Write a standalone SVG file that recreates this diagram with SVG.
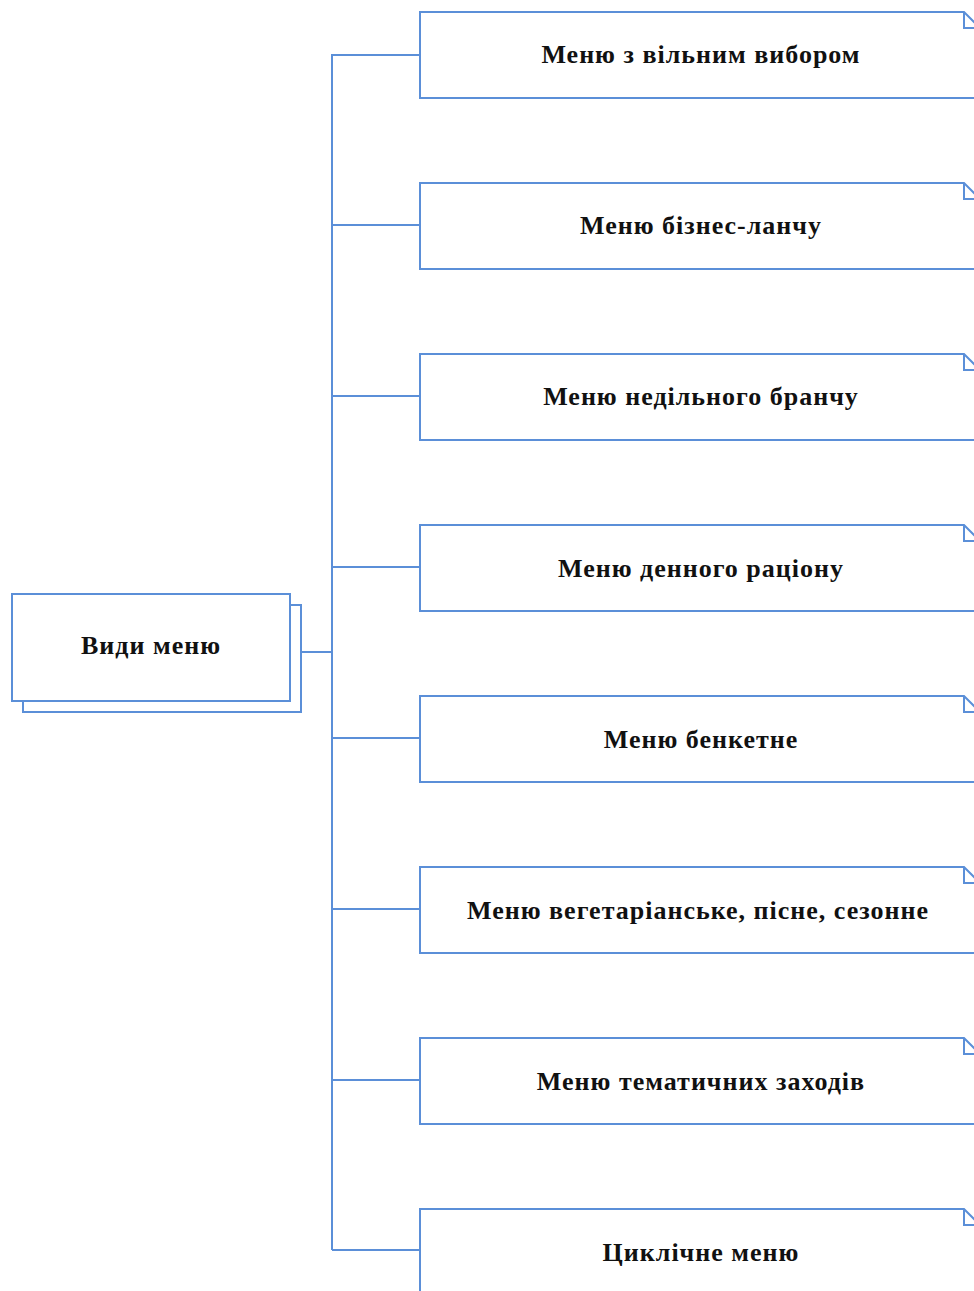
<svg xmlns="http://www.w3.org/2000/svg" width="974" height="1291" viewBox="0 0 974 1291">
  <defs>
    <style>
      .edge { stroke: #5b8fd8; stroke-width: 2; fill: none; }
      .box { stroke: #5b8fd8; stroke-width: 2; fill: #ffffff; }
      .fold { stroke: #5b8fd8; stroke-width: 2; fill: none; }
      .label { font-family: "Liberation Serif", "Times New Roman", serif; font-weight: bold; font-size: 26px; letter-spacing: 1px; fill: #111111; text-anchor: middle; }
    </style>
    <!-- folded-corner card, origin at its top-left -->
    <g id="card">
      <path class="box" d="M0 0 H544 L560 16 V86 H0 Z"/>
      <path class="fold" d="M544 0 V16 H560"/>
    </g>
  </defs>
  <rect width="974" height="1291" fill="#ffffff"/>

  <g id="connectors">
    <path class="edge" d="M332 54 V1250"/>
    <path class="edge" d="M301 652 H332"/>
    <path class="edge" d="M332 55 H420"/>
    <path class="edge" d="M332 225 H420"/>
    <path class="edge" d="M332 396 H420"/>
    <path class="edge" d="M332 567 H420"/>
    <path class="edge" d="M332 738 H420"/>
    <path class="edge" d="M332 909 H420"/>
    <path class="edge" d="M332 1080 H420"/>
    <path class="edge" d="M332 1250 H420"/>
  </g>

  <g id="root">
    <rect class="box" x="23" y="605" width="278" height="107"/>
    <rect class="box" x="12" y="594" width="278" height="107"/>
    <text class="label" x="151" y="654">Види меню</text>
  </g>

  <g id="n1">
    <use href="#card" x="420" y="12"/>
    <text class="label" x="701" y="63">Меню з вільним вибором</text>
  </g>
  <g id="n2">
    <use href="#card" x="420" y="183"/>
    <text class="label" x="701" y="234">Меню бізнес-ланчу</text>
  </g>
  <g id="n3">
    <use href="#card" x="420" y="354"/>
    <text class="label" x="701" y="405">Меню недільного бранчу</text>
  </g>
  <g id="n4">
    <use href="#card" x="420" y="525"/>
    <text class="label" x="701" y="577">Меню денного раціону</text>
  </g>
  <g id="n5">
    <use href="#card" x="420" y="696"/>
    <text class="label" x="701" y="748">Меню бенкетне</text>
  </g>
  <g id="n6">
    <use href="#card" x="420" y="867"/>
    <text class="label" x="698" y="919">Меню вегетаріанське, пісне, сезонне</text>
  </g>
  <g id="n7">
    <use href="#card" x="420" y="1038"/>
    <text class="label" x="701" y="1090">Меню тематичних заходів</text>
  </g>
  <g id="n8">
    <use href="#card" x="420" y="1209"/>
    <text class="label" x="701" y="1261">Циклічне меню</text>
  </g>
</svg>
